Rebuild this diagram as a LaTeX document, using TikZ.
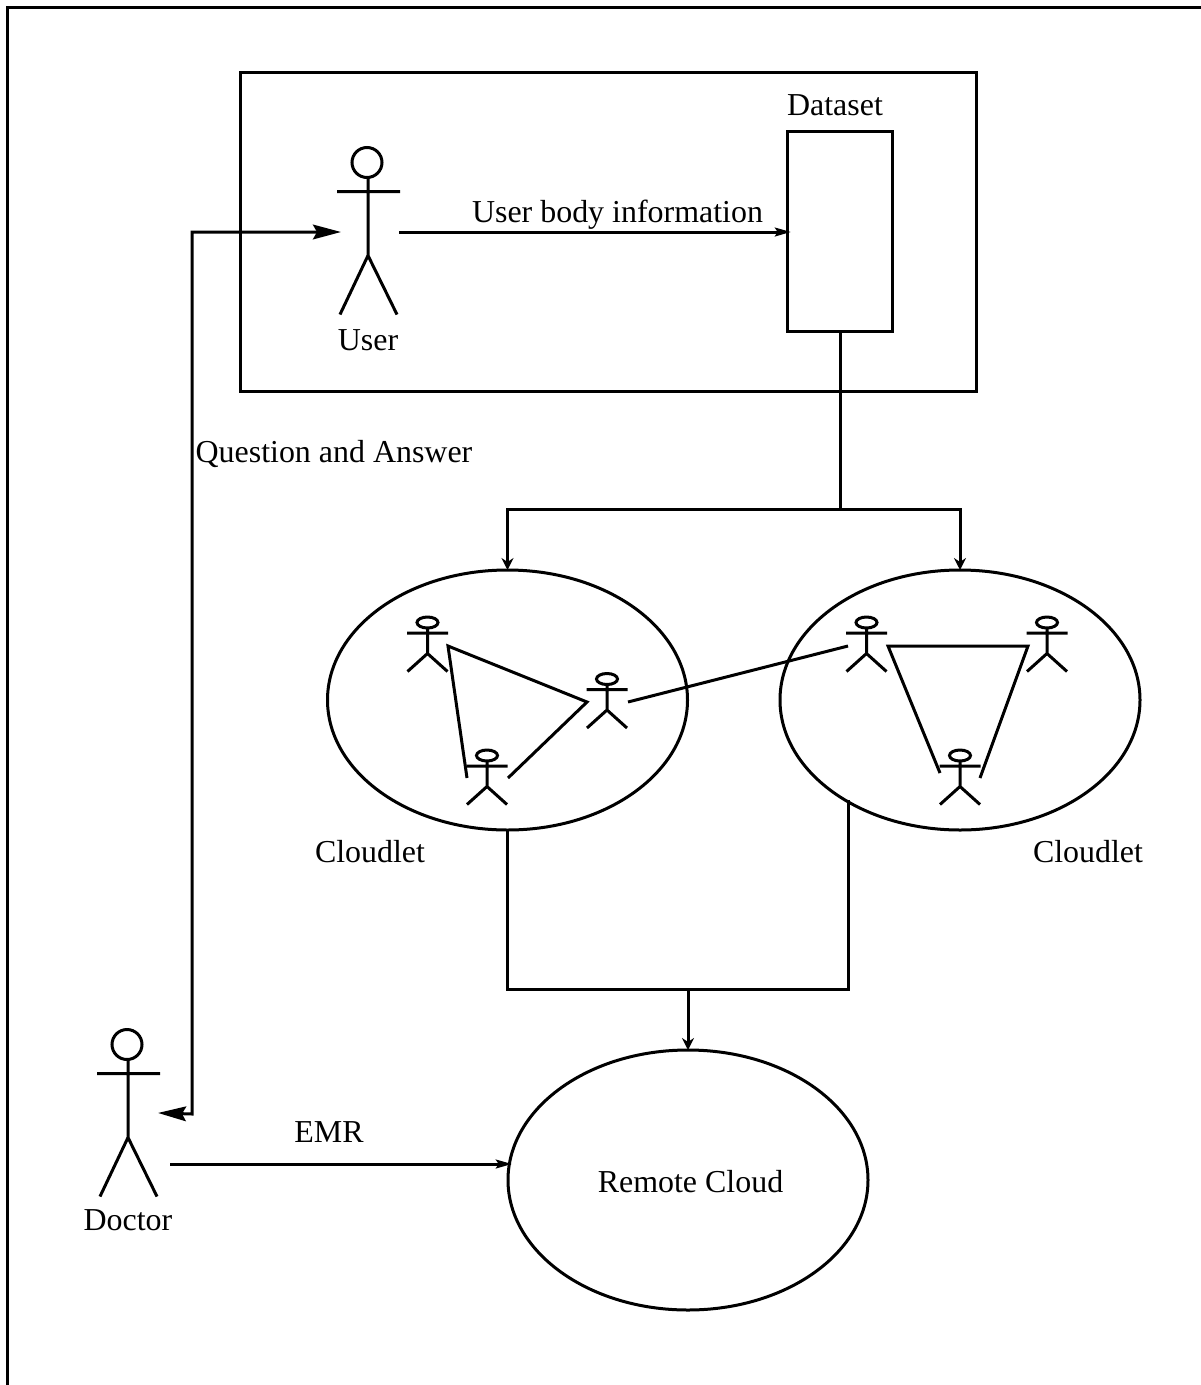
\documentclass[tikz,border=0pt]{standalone}
\usepackage{fontspec}
\setmainfont{Liberation Serif}
\usetikzlibrary{arrows.meta,shapes.geometric}
\tikzset{
  ln/.style={line width=2.25pt,line cap=butt,line join=miter},
  txt/.style={inner sep=0pt,outer sep=0pt,anchor=base,font=\fontsize{23.95}{28}\selectfont},
  boxn/.style={draw,ln,inner sep=0pt,outer sep=0pt},
  oval/.style={draw,ln,ellipse,inner sep=0pt,outer sep=0pt,minimum width=270pt,minimum height=195pt},
  bigtip/.style={{Stealth[length=21pt,width=11pt,inset=3pt]}-{Stealth[length=21pt,width=11pt,inset=3pt]},shorten >=-1.5pt,shorten <=-1.5pt},
  midtip/.style={-{Stealth[length=12pt,width=6.5pt,inset=2pt]},shorten >=-3pt},
  smalltip/.style={{Stealth[length=9pt,width=9pt,inset=3pt]}-{Stealth[length=9pt,width=9pt,inset=3pt]}},
  onetip/.style={-{Stealth[length=9pt,width=9pt,inset=3pt]}},
  bigactor/.pic={
    \draw[ln] (0,0) circle[radius=15];
    \draw[ln] (1,15) -- (1,93) (-30,29) -- (33,29) (-27,152) -- (1,93) -- (30,152);
  },
  smallactor/.pic={
    \draw[ln] (0,0) ellipse[x radius=10.5,y radius=5.5];
    \draw[ln] (0,5.5) -- (0,31) (-20.5,10.5) -- (20.5,10.5) (-20,49) -- (0,31) -- (20,49);
  }
}
\begin{document}
\begin{tikzpicture}[x=.75pt,y=-.75pt]
\useasboundingbox (0,0) rectangle (1201,1385);
% frame
\coordinate (fA) at (7,1385);
\coordinate (fB) at (7,7);
\coordinate (fC) at (1201,7);
\draw[ln] (fA) -- (fB) -- (fC);
% boxes
\node[boxn,minimum width=552pt,minimum height=239.25pt] (env) at (608,231.5) {};
\node[boxn,minimum width=78.75pt,minimum height=150pt] (data) at (839.5,231) {};
% actors
\pic at (367,162.5) {bigactor};
\pic at (127,1044.5) {bigactor};
\pic at (427.5,622.5) {smallactor};
\pic at (607,679) {smallactor};
\pic at (487,755.5) {smallactor};
\pic at (866.5,622.5) {smallactor};
\pic at (1047,622.5) {smallactor};
\pic at (960,755.5) {smallactor};
% ellipses
\node[oval] (c1) at (507.5,700) {};
\node[oval] (c2) at (960,700) {};
\node[oval] (rc) at (688,1180) {};
% labels
\node[txt] (lr) at (690.5,1192) {Remote Cloud};
\node[txt] (lu) at (368,350) {User};
\node[txt] (ld) at (835,115) {Dataset};
\node[txt] (lb) at (617.5,222) {User body information};
\node[txt] (lq) at (334,462) {Question and Answer};
\node[txt] (lc1) at (370,862) {Cloudlet};
\node[txt] (lc2) at (1088,862) {Cloudlet};
\node[txt] (ldoc) at (128,1230) {Doctor};
\node[txt] (lemr) at (329,1142) {EMR};
% connector points
\coordinate (uOut) at (399,232);
\coordinate (uIn) at (339,232);
\coordinate (qTop) at (192,232);
\coordinate (qBot) at (192,1114);
\coordinate (dIn) at (160,1113);
\coordinate (dOut) at (170,1164);
\coordinate (split) at (840,509);
\coordinate (join) at (688,989);
\coordinate (c2Drop) at (848,800);
\coordinate (n1a) at (448,646);
\coordinate (n1b) at (587,702);
\coordinate (n1c) at (508,778);
\coordinate (n1d) at (467,778);
\coordinate (linkA) at (628,702);
\coordinate (linkB) at (848,646);
\coordinate (n2a) at (888,646);
\coordinate (n2b) at (1028,646);
\coordinate (n2c) at (980,778);
\coordinate (n2d) at (940,773);
% connectors
\draw[ln,midtip] (uOut) -- (uOut -| data.west);
\draw[ln,bigtip] (uIn) -- (qTop) -- (qBot) -- (dIn);
\draw[ln] (data.south -| split) -- (split);
\draw[ln,smalltip] (c1.north) |- (split) -| (c2.north);
\draw[ln] (c1.south) |- (c2Drop |- join) -- (c2Drop);
\draw[ln,onetip] (join) -- (rc.north);
\draw[ln,midtip] (dOut) -- (dOut -| rc.west);
\draw[ln] (n1d) -- (n1a) -- (n1b) -- (n1c);
\draw[ln] (linkA) -- (linkB);
\draw[ln] (n2d) -- (n2a) -- (n2b) -- (n2c);
\end{tikzpicture}
\end{document}
